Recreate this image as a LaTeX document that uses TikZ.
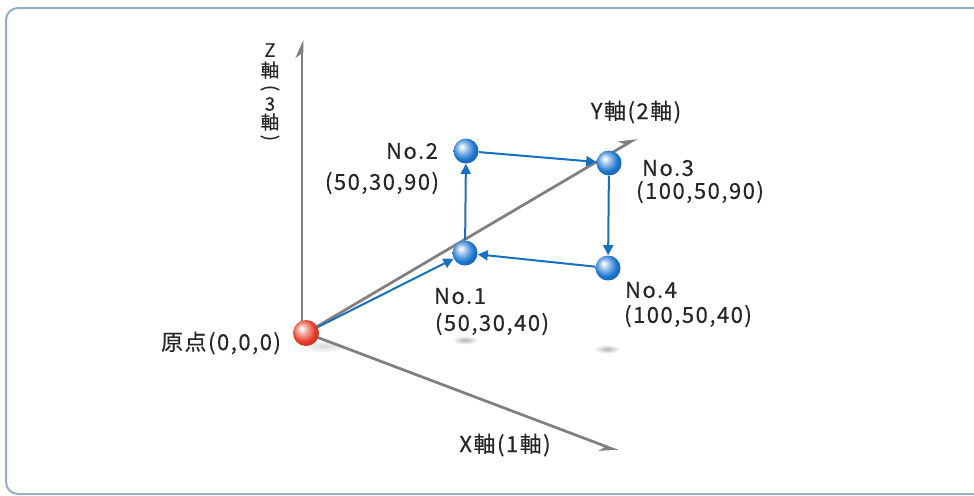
\documentclass[tikz,border=0pt]{standalone}
\usepackage{fontspec}
\setmainfont{Noto Sans CJK JP}[LetterSpace=7, FakeBold=0.3]
\usetikzlibrary{arrows.meta,backgrounds}

\definecolor{framecol}{RGB}{150,174,202}
\definecolor{axisgray}{RGB}{128,128,128}
\definecolor{pathblue}{RGB}{22,112,192}
\definecolor{ballblue}{RGB}{28,118,208}
\definecolor{ballred}{RGB}{232,58,38}

\pgfdeclareradialshading{blueball}{\pgfqpoint{-9bp}{9bp}}{color(0bp)=(white); color(3bp)=(white!90!ballblue); color(12bp)=(ballblue!55!white); color(22bp)=(ballblue); color(32bp)=(ballblue!80!black); color(50bp)=(ballblue!60!black)}
\pgfdeclareradialshading{redball}{\pgfqpoint{-9bp}{9bp}}{color(0bp)=(white); color(3bp)=(white!90!ballred); color(12bp)=(ballred!55!white); color(22bp)=(ballred); color(32bp)=(ballred!85!black); color(50bp)=(ballred!65!black)}

\begin{document}
\begin{tikzpicture}[x=0.2mm, y=-0.2mm,
  every node/.style={font=\fontsize{12.5}{14}\selectfont, text=black!85},
  ball/.style={circle, minimum size=5mm, inner sep=0pt, shade, shading=blueball},
  axis/.style={line width=0.55mm, draw=axisgray, -{Stealth[harpoon, length=3mm, width=2.6mm]}},
  move/.style={line width=0.4mm, draw=pathblue, -{Triangle[length=2mm, width=2mm]}},
  shadow/.style={inner color=black!30, outer color=white},
  vchar/.style={font=\fontsize{10.5}{12}\selectfont, inner sep=0pt},
]

\useasboundingbox (0,0) rectangle (974,495);
\draw[framecol, line width=0.4mm, rounded corners=2.4mm] (6,8) rectangle (990,494);

% points
\node[ball, minimum size=5.2mm, shading=redball] (org) at (306,333) {};
\node[ball] (p1) at (465,253) {};
\node[ball] (p2) at (466,151) {};
\node[ball] (p3) at (609,163) {};
\node[ball] (p4) at (608,268) {};

\coordinate (zend) at (302,40);
\coordinate (yend) at (637,138);
\coordinate (xend) at (618,451);

\begin{scope}[on background layer]
  \shade[shadow, inner color=black!15] (324,346) ellipse [x radius=5mm, y radius=1.3mm];
  \shade[shadow] (465,340) ellipse [x radius=2.6mm, y radius=0.9mm];
  \shade[shadow] (607,349) ellipse [x radius=2.6mm, y radius=0.9mm];
  \draw[axis] (org.center -| zend) -- (zend);
  \draw[axis] (org.center) -- (yend);
  \draw[axis, -{Stealth[harpoon, swap, length=3mm, width=2.6mm]}] (org.center) -- (xend);
\end{scope}

% path
\draw[move] (org) -- (p1);
\draw[move] (p1) -- (p2);
\draw[move] (p2) -- (p3);
\draw[move] (p3) -- (p4);
\draw[move] (p4) -- (p1);

% z axis label, set vertically
\node[vchar] (z1) at (270,50) {Z};
\node[vchar] (z2) at (270,70) {軸};
\node[vchar, rotate=-90] (z3) at (270,88) {(};
\node[vchar] (z4) at (270,104) {3};
\node[vchar] (z5) at (270,122) {軸};
\node[vchar, rotate=-90] (z6) at (270,138) {)};

% labels
\node (ylbl) at (636,112) {Y軸(2軸)};
\node (xlbl) at (505,445) {X軸(1軸)};
\node (olbl) at (221,343) {原点(0,0,0)};

\node (n2) at (412,151) {No.2};
\node (c2) at (382,183) {(50,30,90)};
\node (n3) at (668,168) {No.3};
\node (c3) at (700,192) {(100,50,90)};
\node (n1) at (460,296) {No.1};
\node (c1) at (492,324) {(50,30,40)};
\node (n4) at (651,290) {No.4};
\node (c4) at (688,316) {(100,50,40)};

\end{tikzpicture}
\end{document}
